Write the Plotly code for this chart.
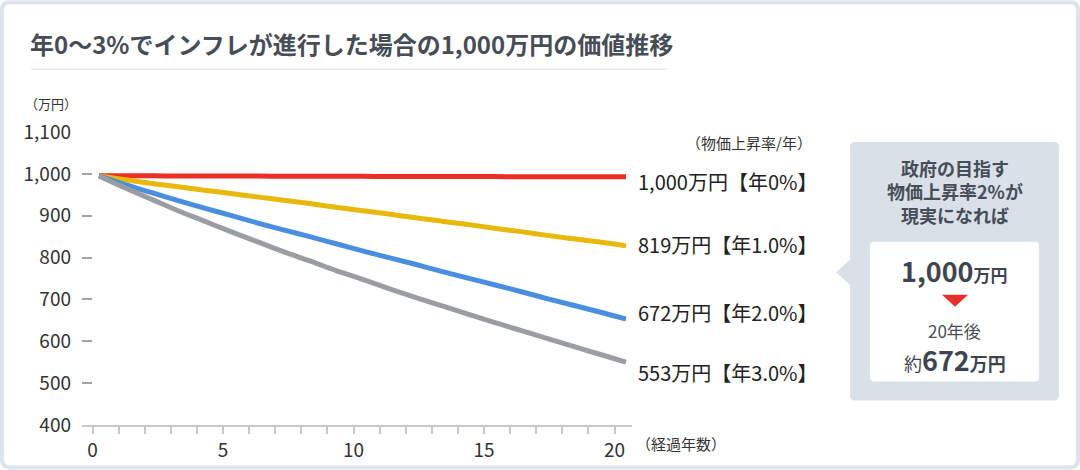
import plotly.graph_objects as go

# values (万円), one per elapsed year
years = list(range(0, 21))
rate_0 = [995.5, 995.4, 995.2, 995.1, 994.9, 994.8, 994.6, 994.5, 994.3, 994.2, 994.0,
          993.9, 993.8, 993.6, 993.5, 993.4, 993.3, 993.2, 993.1, 993.0, 993.0]
rate_1 = [995, 986, 977, 969, 961, 953, 945, 937, 929, 920, 912, 904, 895, 887, 879, 870, 862, 853, 845, 837, 828]
rate_2 = [995, 974, 955, 936, 918, 901, 883, 866, 850, 833, 816, 800, 784, 767, 751, 735, 719, 702, 686, 670, 653]
rate_3 = [995, 966, 939, 912, 887, 862, 838, 814, 792, 769, 748, 726, 705, 685, 665, 645, 626, 607, 588, 569, 550]

series = [rate_0, rate_1, rate_2, rate_3]
colors = ['#ec2f26', '#e8b80c', '#4a8ee0', '#9a9da2']
end_labels = ['1,000万円【年0%】', '819万円【年1.0%】', '672万円【年2.0%】', '553万円【年3.0%】']
label_ypix = [182, 245, 313, 373]

title = '年0〜3%でインフレが進行した場合の1,000万円の価値推移'
font = 'Noto Sans CJK JP'

W, H = 1080, 470
L, R, T, B = 82, 448, 132, 44.5
PW, PH = W - L - R, H - T - B


def px(x):
    return (x - L) / PW


def py(y):
    return (H - B - y) / PH


fig = go.Figure()

# transparent copy on the tick axis so that it gets drawn
fig.add_trace(go.Scatter(x=years, y=rate_0, mode='lines', xaxis='x', yaxis='y', opacity=0,
                         hoverinfo='skip', showlegend=False))
for vals, col in zip(series, colors):
    fig.add_trace(go.Scatter(x=years, y=vals, mode='lines', xaxis='x2', yaxis='y',
                             line=dict(color=col, width=5, shape='spline', smoothing=1),
                             hoverinfo='skip', showlegend=False))

fig.update_layout(
    width=W, height=H,
    margin=dict(l=L, r=R, t=T, b=B),
    paper_bgcolor='white', plot_bgcolor='white',
    font=dict(family=font, color='#333333'),
    showlegend=False,
)

fig.update_layout(xaxis=dict(range=[-0.403, 20.67], tickmode='linear', tick0=0, dtick=5,
                             ticks='outside', ticklen=7, tickwidth=2, tickcolor='#c8c8c8',
                             minor=dict(dtick=1, ticks='outside', ticklen=7, tickwidth=2, tickcolor='#c8c8c8'),
                             showline=True, linecolor='#c8c8c8', linewidth=2, automargin=False,
                             showgrid=False, zeroline=False, tickfont=dict(size=19, color='#333333')))
fig.update_layout(xaxis2=dict(range=[-0.645, 20.228], overlaying='x', visible=False))
fig.update_layout(yaxis=dict(range=[400, 1100], tickmode='linear', tick0=400, dtick=100, tickformat=',',
                             ticks='inside', ticklen=10, tickwidth=2, tickcolor='#a3a3a3',
                             ticklabelstandoff=10, showline=False, showgrid=False, zeroline=False,
                             automargin=False, tickfont=dict(size=19, color='#333333')))

ann = []
# title and small axis captions
ann.append(dict(text='<b>' + title + '</b>', x=px(28), y=py(43), xanchor='left', yanchor='middle',
                font=dict(size=24, color='#474d57')))
ann.append(dict(text='（万円）', x=px(51), y=py(103), xanchor='center', yanchor='middle',
                font=dict(size=13, color='#333333')))
ann.append(dict(text='（経過年数）', x=px(634), y=py(444), xanchor='left', yanchor='middle',
                font=dict(size=15, color='#333333')))
ann.append(dict(text='（物価上昇率/年）', x=px(814), y=py(143), xanchor='right', yanchor='middle',
                font=dict(size=15, color='#333333')))
for txt, yp in zip(end_labels, label_ypix):
    ann.append(dict(text=txt, x=px(636), y=py(yp), xanchor='left', yanchor='middle',
                    font=dict(size=20, color='#222222')))

# callout box
cx = 955
ann.append(dict(text='<b>政府の目指す<br>物価上昇率2%が<br>現実になれば</b>', x=px(cx), y=py(192),
                xanchor='center', yanchor='middle', align='center',
                font=dict(size=18, color='#474d57')))
ann.append(dict(text='<b><span style="font-size:27px">1,000</span>万円</b>', x=px(cx), y=py(271),
                xanchor='center', yanchor='middle', font=dict(size=17, color='#3f4550')))
ann.append(dict(text='20年後', x=px(cx), y=py(331), xanchor='center', yanchor='middle',
                font=dict(size=17, color='#474d57')))
ann.append(dict(text='約<b><span style="font-size:27px">672</span>万円</b>', x=px(cx), y=py(360),
                xanchor='center', yanchor='middle', font=dict(size=18, color='#3f4550')))

for a in ann:
    a.update(xref='paper', yref='paper', showarrow=False)
fig.update_layout(annotations=ann)


def rrect(x0, y0, x1, y1, r):
    return ('M {a},{b} L {c},{b} Q {d},{b} {d},{e} L {d},{f} Q {d},{g} {c},{g} L {a},{g} '
            'Q {h},{g} {h},{f} L {h},{e} Q {h},{b} {a},{b} Z').format(
        a=px(x0 + r), b=py(y0), c=px(x1 - r), d=px(x1), e=py(y0 + r), f=py(y1 - r), g=py(y1), h=px(x0))


shapes = [
    # outer frame
    dict(type='path', path=rrect(2, 2, 1078, 468, 8), line=dict(color='#dde4ec', width=4), fillcolor='rgba(0,0,0,0)'),
    # title rule
    dict(type='line', x0=px(31), x1=px(667), y0=py(69), y1=py(69), line=dict(color='#d8dee5', width=1)),
    # callout
    dict(type='path', path=rrect(850, 142, 1059, 401, 5), line=dict(width=0), fillcolor='#d9e0e8', layer='below'),
    dict(type='path', path='M {},{} L {},{} L {},{} Z'.format(px(850), py(260), px(836), py(272.5), px(850), py(285)),
         line=dict(width=0), fillcolor='#d9e0e8', layer='below'),
    dict(type='path', path=rrect(870, 242, 1039, 382, 4), line=dict(width=0), fillcolor='white', layer='below'),
    dict(type='path', path='M {},{} L {},{} L {},{} Z'.format(px(942), py(295), px(968), py(295), px(955), py(307)),
         line=dict(width=0), fillcolor='#e8302a'),
]
for s in shapes:
    s.update(xref='paper', yref='paper')
fig.update_layout(shapes=shapes)

# the page's default body margin would push the figure out of the window
fig.write_html('out.html', config={'displayModeBar': False},
               post_script="document.body.style.margin='0px';")
